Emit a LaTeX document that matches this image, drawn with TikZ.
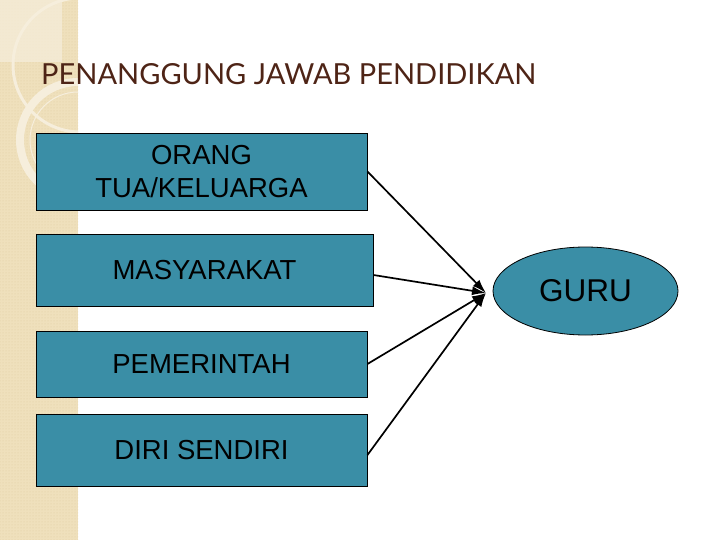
\documentclass[tikz,border=0pt]{standalone}
\usepackage{fontspec}
\setmainfont{Liberation Sans}
\newfontfamily\titlefont{Lato}
\usetikzlibrary{shapes.geometric,arrows.meta,patterns}
\definecolor{boxteal}{RGB}{58,142,166}
\definecolor{titlebrown}{RGB}{78,36,22}
\definecolor{stripbeige}{RGB}{239,224,188}
\definecolor{stripdot}{RGB}{226,206,160}
\definecolor{stripcream}{RGB}{246,238,220}
\begin{document}
\begin{tikzpicture}[x=1pt,y=-1pt,
  sumber/.style={draw=black,line width=0.9pt,fill=boxteal,minimum height=66pt,
    inner sep=0pt,align=center,font=\fontsize{27.5}{33}\selectfont},
  tujuan/.style={ellipse,draw=black,line width=0.8pt,fill=boxteal,minimum width=185pt,
    minimum height=88pt,inner sep=0pt,font=\fontsize{31.5}{33}\selectfont},
  panah/.style={-{Latex[length=14pt,width=9pt]},line width=1.7pt}]
  \useasboundingbox (0,0) rectangle (720,540);
  % strip kiri
  \fill[stripbeige] (0,0) rectangle (78,540);
  \fill[pattern=dots,pattern color=stripdot] (0,0) rectangle (78,540);
  \begin{scope}
    \clip (0,0) rectangle (78,540);
    \fill[stripcream,opacity=0.7] (0,0) rectangle (62,62);
    \draw[stripcream,line width=3pt] (80,65) circle (67);
    \draw[stripcream,line width=8pt] (78,140) circle (58);
    \draw[stripcream,line width=1pt] (78,140) circle (48);
  \end{scope}
  % judul
  \node[anchor=base west,inner sep=0pt,text=titlebrown,
    font=\titlefont\fontsize{29}{34}\selectfont] (judul) at (41,85)
    {PENANGGUNG JAWAB PENDIDIKAN};
  % kotak
  \node[sumber,minimum width=331pt,minimum height=77pt] (orang) at (201.5,171.5)
    {ORANG\\TUA/KELUARGA};
  \node[sumber,minimum width=337pt,minimum height=72pt] (masyarakat) at (204.5,270)
    {MASYARAKAT};
  \node[sumber,minimum width=331pt] (pemerintah) at (201.5,364)
    {PEMERINTAH};
  \node[sumber,minimum width=331pt,minimum height=72pt] (diri) at (201.5,450)
    {DIRI SENDIRI};
  \node[tujuan] (guru) at (585.5,291) {GURU};
  \coordinate (ujung) at (486,293);
  % panah
  \draw[panah] (orang.east) -- (ujung);
  \draw[panah] ([yshift=-5pt]masyarakat.east) -- (ujung);
  \draw[panah] (pemerintah.east) -- (ujung);
  \draw[panah] ([yshift=-5pt]diri.east) -- (ujung);
\end{tikzpicture}
\end{document}
